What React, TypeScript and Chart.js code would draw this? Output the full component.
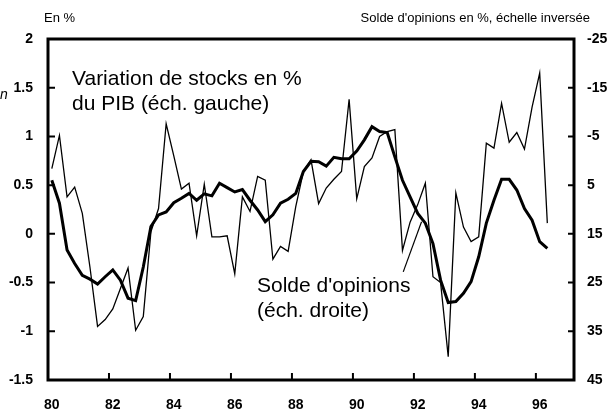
import React, { useEffect, useRef } from "react";
import { Chart, registerables } from "chart.js";

Chart.register(...registerables);

// ---- Data ----
const years = [80, 81, 82, 83, 84, 85, 86, 87, 88, 89, 90, 91, 92, 93, 94, 95, 96, 97];
const quarterNames = ["T1", "T2", "T3", "T4"];
const slotCount = 69; // 80 T1 .. 97 T1

// Variation de stocks en % du PIB (échelle gauche), trimestriel depuis 1980 T1
const stockVariation = [
  0.67, 1.01, 0.38, 0.48, 0.21, -0.34, -0.95, -0.88,
  -0.77, -0.56, -0.35, -0.99, -0.85, 0.02, 0.26, 1.13,
  0.8, 0.46, 0.52, -0.02, 0.51, -0.03, -0.03, -0.02,
  -0.41, 0.38, 0.23, 0.59, 0.55, -0.26, -0.13, -0.18,
  0.28, 0.64, 0.76, 0.31, 0.47, 0.56, 0.64, 1.38,
  0.36, 0.69, 0.78, 1.0, 1.05, 1.07, -0.17, 0.12,
  0.3, 0.52, -0.44, -0.5, -1.26, 0.42, 0.07, -0.08,
  -0.03, 0.93, 0.88, 1.34, 0.94, 1.04, 0.87, 1.3,
  1.65, 0.11,
];

// Solde d'opinions en % (échelle droite inversée)
const opinionBalance = [
  4.0, 8.7, 18.3, 21.1, 23.5, 24.3, 25.3, 23.8,
  22.4, 24.5, 28.2, 28.7, 21.8, 13.5, 11.1, 10.5,
  8.6, 7.7, 6.7, 8.1, 6.8, 7.2, 4.6, 5.5,
  6.4, 5.9, 8.1, 10.1, 12.5, 11.1, 8.7, 7.9,
  6.7, 2.2, 0.1, 0.2, 1.1, -0.7, -0.4, -0.4,
  -2.0, -4.3, -7.0, -6.0, -5.8, -0.8, 4.0, 7.4,
  10.8, 12.8, 17.0, 24.5, 29.1, 28.9, 27.2, 24.8,
  19.7, 12.8, 8.1, 3.8, 3.8, 6.0, 9.8, 12.2,
  16.6, 18.0,
];

const leftTicks = [-1.5, -1, -0.5, 0, 0.5, 1, 1.5, 2];
const rightTicks = [-25, -15, -5, 5, 15, 25, 35, 45];
const xTickYears = [80, 82, 84, 86, 88, 90, 92, 94, 96];

const FONT = "'Liberation Sans', Arial, Helvetica, sans-serif";

function buildLabels(): string[] {
  const out: string[] = [];
  for (const y of years) for (const q of quarterNames) out.push(`${y} ${q}`);
  return out.slice(0, slotCount);
}

const decorPlugin = {
  id: "decor",
  afterDraw(chart: any) {
    const { ctx, chartArea } = chart;
    const { left, right, top, bottom } = chartArea;
    const xs = chart.scales.x;
    const yl = chart.scales.yL;
    const yr = chart.scales.yR;
    ctx.save();
    ctx.strokeStyle = "#000";
    ctx.fillStyle = "#000";

    // frame
    ctx.lineWidth = 3;
    ctx.strokeRect(left, top, right - left, bottom - top);

    // inward ticks
    ctx.lineWidth = 2;
    const slot = xs.getPixelForValue(1) - xs.getPixelForValue(0);
    ctx.beginPath();
    for (const yv of xTickYears) {
      if (yv === years[0]) continue;
      const idx = (yv - years[0]) * 4;
      const px = xs.getPixelForValue(idx) - slot / 2;
      ctx.moveTo(px, bottom);
      ctx.lineTo(px, bottom - 7);
    }
    for (const v of leftTicks) {
      const py = yl.getPixelForValue(v);
      ctx.moveTo(left, py);
      ctx.lineTo(left + 7, py);
    }
    for (const v of rightTicks) {
      const py = yr.getPixelForValue(v);
      ctx.moveTo(right - 6, py);
      ctx.lineTo(right, py);
    }
    ctx.stroke();

    // leader line for "Solde d'opinions"
    ctx.lineWidth = 1.2;
    ctx.beginPath();
    ctx.moveTo(xs.getPixelForValue(46.1), yr.getPixelForValue(22.8));
    ctx.lineTo(xs.getPixelForValue(48.5), yr.getPixelForValue(12.5));
    ctx.stroke();

    // texts
    ctx.textBaseline = "alphabetic";
    ctx.font = `13px ${FONT}`;
    ctx.textAlign = "left";
    ctx.fillText("En %", 44, 22);
    ctx.textAlign = "right";
    ctx.fillText("Solde d'opinions en %, échelle inversée", 590, 22);

    ctx.textAlign = "left";
    ctx.font = `21px ${FONT}`;
    ctx.fillText("Variation de stocks en %", 72, 85);
    ctx.fillText("du PIB (éch. gauche)", 72, 110);
    ctx.fillText("Solde d'opinions", 257, 292);
    ctx.fillText("(éch. droite)", 257, 317);

    ctx.font = `italic 14px ${FONT}`;
    ctx.fillText("n", 0, 99);
    ctx.restore();
  },
};

export default function App() {
  const canvasRef = useRef<HTMLCanvasElement | null>(null);

  useEffect(() => {
    document.body.style.margin = "0";
    const canvas = canvasRef.current;
    if (!canvas) return;
    const labels = buildLabels();
    const tickFont = { family: FONT, size: 14, weight: "bold" as const };

    const chart = new Chart(canvas, {
      type: "line",
      data: {
        labels,
        datasets: [
          {
            label: "Variation de stocks en % du PIB",
            data: stockVariation,
            yAxisID: "yL",
            borderColor: "#000",
            borderWidth: 1.3,
            pointRadius: 0,
            tension: 0,
            fill: false,
          },
          {
            label: "Solde d'opinions",
            data: opinionBalance,
            yAxisID: "yR",
            borderColor: "#000",
            borderWidth: 3,
            pointRadius: 0,
            tension: 0,
            fill: false,
          },
        ],
      },
      options: {
        responsive: false,
        animation: false,
        devicePixelRatio: 1,
        layout: { padding: { top: 39, left: 0, right: 0, bottom: 0 } },
        plugins: {
          legend: { display: false },
          tooltip: { enabled: false },
          title: { display: false },
        },
        scales: {
          x: {
            type: "category",
            offset: true,
            grid: { display: false, drawTicks: false },
            border: { display: false },
            ticks: {
              autoSkip: false,
              maxRotation: 0,
              minRotation: 0,
              color: "#000",
              font: tickFont,
              padding: 17,
              callback: (_v: any, idx: number) => {
                if (idx % 4 !== 0) return "";
                const y = years[idx / 4];
                return xTickYears.includes(y) ? String(y) : "";
              },
            },
            afterFit: (s: any) => {
              s.height = 31;
            },
          },
          yL: {
            type: "linear",
            position: "left",
            min: -1.5,
            max: 2,
            grid: { display: false, drawTicks: false },
            border: { display: false },
            ticks: {
              color: "#000",
              font: tickFont,
              padding: 15,
              callback: (v: any) => String(Number(v)),
            },
            afterBuildTicks: (s: any) => {
              s.ticks = leftTicks.map((v) => ({ value: v }));
            },
            afterFit: (s: any) => {
              s.width = 48;
            },
          },
          yR: {
            type: "linear",
            position: "right",
            reverse: true,
            min: -25,
            max: 45,
            grid: { display: false, drawTicks: false },
            border: { display: false },
            ticks: {
              color: "#000",
              font: tickFont,
              padding: 13,
              callback: (v: any) => String(Number(v)),
            },
            afterBuildTicks: (s: any) => {
              s.ticks = rightTicks.map((v) => ({ value: v }));
            },
            afterFit: (s: any) => {
              s.width = 34;
            },
          },
        },
      },
      plugins: [decorPlugin],
    });
    return () => chart.destroy();
  }, []);

  return (
    <div style={{ width: 608, height: 411 }}>
      <canvas ref={canvasRef} width={608} height={411} style={{ display: "block" }} />
    </div>
  );
}
